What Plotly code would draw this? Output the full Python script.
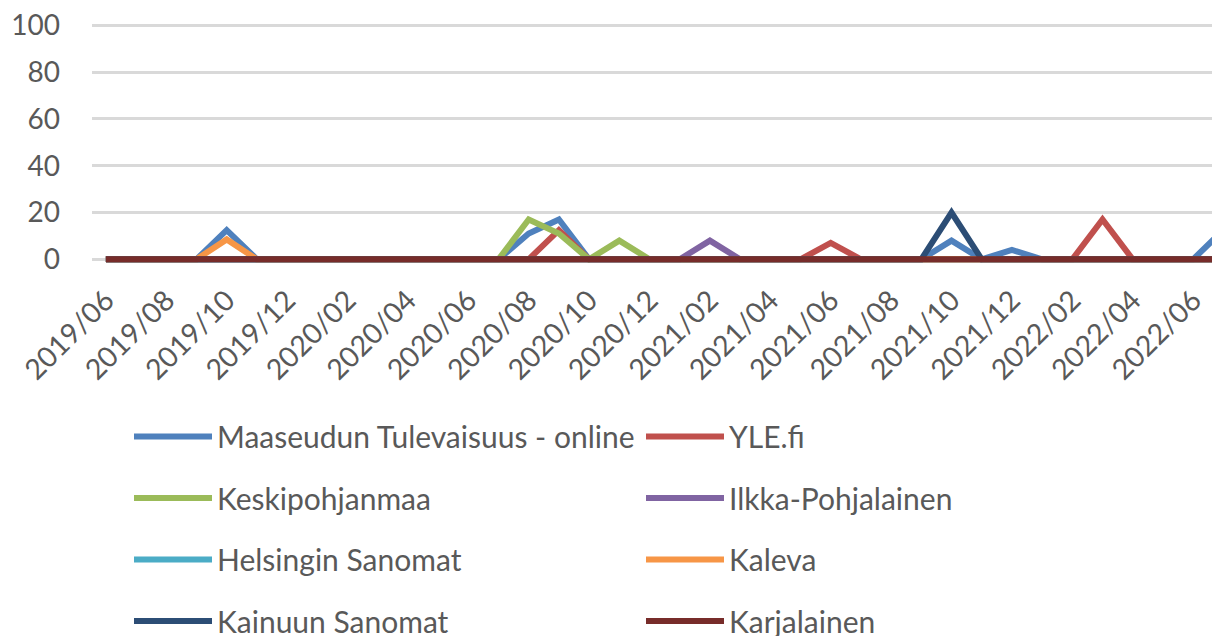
import plotly.graph_objects as go

months = [
    "2019/06", "2019/07", "2019/08", "2019/09", "2019/10", "2019/11", "2019/12",
    "2020/01", "2020/02", "2020/03", "2020/04", "2020/05", "2020/06", "2020/07",
    "2020/08", "2020/09", "2020/10", "2020/11", "2020/12", "2021/01", "2021/02",
    "2021/03", "2021/04", "2021/05", "2021/06", "2021/07", "2021/08", "2021/09",
    "2021/10", "2021/11", "2021/12", "2022/01", "2022/02", "2022/03", "2022/04",
    "2022/05", "2022/06", "2022/07",
]
tick_labels = [
    "2019/06", "2019/08", "2019/10", "2019/12", "2020/02", "2020/04", "2020/06",
    "2020/08", "2020/10", "2020/12", "2021/02", "2021/04", "2021/06", "2021/08",
    "2021/10", "2021/12", "2022/02", "2022/04", "2022/06",
]

maaseudun = [0, 0, 0, 0, 12.5, 0, 0, 0, 0, 0, 0, 0, 0, 0, 11, 17, 0, 0, 0, 0, 0,
             0, 0, 0, 0, 0, 0, 0, 8, 0, 4, 0, 0, 0, 0, 0, 0, 12.5]
yle = [0, 0, 0, 0, 0, 0, 0, 0, 0, 0, 0, 0, 0, 0, 0, 12.5, 0, 0, 0, 0, 0,
       0, 0, 0, 7, 0, 0, 0, 0, 0, 0, 0, 0, 17, 0, 0, 0, 0]
keskipohjanmaa = [0, 0, 0, 0, 0, 0, 0, 0, 0, 0, 0, 0, 0, 0, 17, 11, 0, 8, 0, 0, 0,
                  0, 0, 0, 0, 0, 0, 0, 0, 0, 0, 0, 0, 0, 0, 0, 0, 0]
ilkka = [0, 0, 0, 0, 0, 0, 0, 0, 0, 0, 0, 0, 0, 0, 0, 0, 0, 0, 0, 0, 8,
         0, 0, 0, 0, 0, 0, 0, 0, 0, 0, 0, 0, 0, 0, 0, 0, 0]
helsingin = [0] * 38
kaleva = [0, 0, 0, 0, 8.5, 0, 0, 0, 0, 0, 0, 0, 0, 0, 0, 0, 0, 0, 0, 0, 0,
          0, 0, 0, 0, 0, 0, 0, 0, 0, 0, 0, 0, 0, 0, 0, 0, 0]
kainuun = [0, 0, 0, 0, 0, 0, 0, 0, 0, 0, 0, 0, 0, 0, 0, 0, 0, 0, 0, 0, 0,
           0, 0, 0, 0, 0, 0, 0, 20, 0, 0, 0, 0, 0, 0, 0, 0, 0]
karjalainen = [0] * 38

series = [
    ("Maaseudun Tulevaisuus - online", maaseudun, "#4F81BD", "legend"),
    ("YLE.fi", yle, "#C0504D", "legend2"),
    ("Keskipohjanmaa", keskipohjanmaa, "#9BBB59", "legend"),
    ("Ilkka-Pohjalainen", ilkka, "#8064A2", "legend2"),
    ("Helsingin Sanomat", helsingin, "#4BACC6", "legend"),
    ("Kaleva", kaleva, "#F79646", "legend2"),
    ("Kainuun Sanomat", kainuun, "#2C4D75", "legend"),
    ("Karjalainen", karjalainen, "#772C2A", "legend2"),
]

FONT = "Lato"
GREY = "#595959"

fig = go.Figure()
for name, vals, color, leg in series:
    fig.add_trace(go.Scatter(
        x=months, y=vals, name=name, mode="lines",
        line=dict(color=color, width=6),
        legend=leg, legendgroup=name,
    ))

# page body adds an 8px offset; figure sized to fit the window
W, H = 1212, 628
plot_left = 84
plot_top, plot_bot = 14.66, 256.2
plot_h = plot_bot - plot_top
plot_w = W - plot_left
leg_top = 403
legend_common = dict(
    orientation="v", xanchor="left", yanchor="top",
    font=dict(family=FONT, size=30, color=GREY),
    bgcolor="rgba(0,0,0,0)", tracegroupgap=19.5, itemwidth=78,
    maxheight=1.0,
)
fig.update_layout(
    width=W, height=H,
    margin=dict(l=plot_left, r=0, t=plot_top, b=H - plot_bot, autoexpand=False),
    paper_bgcolor="white", plot_bgcolor="white",
    font=dict(family=FONT, size=28, color=GREY),
    showlegend=True,
    legend=dict(x=(121 - plot_left) / plot_w, y=(plot_bot - leg_top) / plot_h, **legend_common),
    legend2=dict(x=(633 - plot_left) / plot_w, y=(plot_bot - leg_top) / plot_h, **legend_common),
    xaxis=dict(
        type="category", range=[-0.46, 36.89],
        tickmode="array", tickvals=tick_labels, ticktext=tick_labels,
        tickangle=-45, showgrid=False, showline=False, zeroline=False,
        ticks="", tickfont=dict(family=FONT, size=28.5, color=GREY),
        ticklabelstandoff=13, ticklabeloverflow="allow",
    ),
    yaxis=dict(
        range=[-2, 101], tickvals=[0, 20, 40, 60, 80, 100],
        showgrid=True, gridcolor="#D9D9D9", gridwidth=2.5,
        zeroline=False, showline=False, ticks="",
        tickfont=dict(family=FONT, size=28, color=GREY),
        ticklabelstandoff=31, ticklabeloverflow="allow",
    ),
)

fig.write_html("out.html")
